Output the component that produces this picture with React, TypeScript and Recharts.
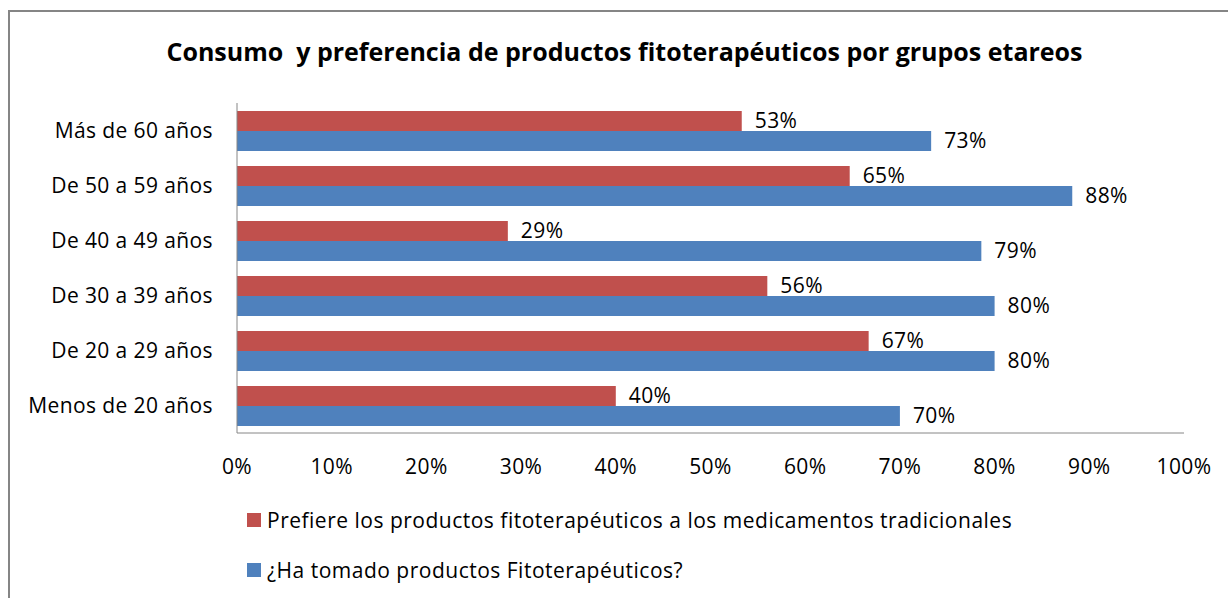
import { BarChart, Bar, XAxis, YAxis, LabelList } from 'recharts';

// categories listed top to bottom, as they appear in the chart
const AGE_GROUPS = [
  'Más de 60 años',
  'De 50 a 59 años',
  'De 40 a 49 años',
  'De 30 a 39 años',
  'De 20 a 29 años',
  'Menos de 20 años',
];
const PREFIERE = [53.3, 64.7, 28.6, 56, 66.7, 40];
const HA_TOMADO = [73.3, 88.2, 78.6, 80, 80, 70];
const X_TICKS = [0, 10, 20, 30, 40, 50, 60, 70, 80, 90, 100];

const SERIES = [
  { key: 'prefiere', name: 'Prefiere los productos fitoterapéuticos a los medicamentos tradicionales', color: '#C0504D' },
  { key: 'tomado', name: '¿Ha tomado productos Fitoterapéuticos?', color: '#4F81BD' },
];

const TITLE = 'Consumo  y preferencia de productos fitoterapéuticos por grupos etareos';

const data = AGE_GROUPS.map((name, i) => ({
  name,
  prefiere: PREFIERE[i],
  tomado: HA_TOMADO[i],
}));

const FONT = '"Open Sans", sans-serif';
const textStyle = { fontFamily: FONT, fontSize: 21, fill: '#000', letterSpacing: 0.4 };

const pct = (v: unknown) => `${Math.round(Number(v))}%`;

export default function App() {
  return (
    <div style={{ position: 'fixed', left: 0, top: 0, width: 1228, height: 598, overflow: 'hidden', background: '#fff' }}>
      <div
        style={{
          position: 'absolute',
          left: 8,
          top: 10,
          width: 1300,
          height: 700,
          borderTop: '2px solid #858585',
          borderLeft: '2px solid #858585',
        }}
      />
      <div
        style={{
          position: 'absolute',
          left: 0,
          top: 39,
          width: 1249,
          textAlign: 'center',
          fontFamily: FONT,
          fontWeight: 700,
          fontSize: 25,
          lineHeight: 1,
          color: '#000',
          whiteSpace: 'pre',
        }}
      >
        {TITLE}
      </div>
      <div style={{ position: 'absolute', left: 0, top: 0 }}>
        <BarChart
          width={1228}
          height={598}
          data={data}
          layout="vertical"
          barSize={20}
          barGap={0}
          margin={{ top: 103, right: 44, bottom: 135, left: 17 }}
        >
          <XAxis
            type="number"
            domain={[0, 100]}
            ticks={X_TICKS}
            tickFormatter={(v) => `${v}%`}
            tick={textStyle}
            tickLine={false}
            tickSize={0}
            tickMargin={26}
            axisLine={{ stroke: '#868686' }}
            height={30}
            interval={0}
          />
          <YAxis
            type="category"
            dataKey="name"
            tick={textStyle}
            tickLine={false}
            tickSize={0}
            tickMargin={24}
            axisLine={{ stroke: '#868686' }}
            width={220}
            interval={0}
          />
          {SERIES.map((s) => (
            <Bar key={s.key} dataKey={s.key} name={s.name} fill={s.color} isAnimationActive={false}>
              <LabelList dataKey={s.key} position="right" offset={13} formatter={pct} style={textStyle} />
            </Bar>
          ))}
        </BarChart>
      </div>
      {SERIES.map((s, i) => (
        <div key={s.key} style={{ position: 'absolute', left: 247, top: 510 + i * 50, height: 20 }}>
          <div style={{ position: 'absolute', left: 0, top: 3, width: 14, height: 14, background: s.color }} />
          <div
            style={{
              position: 'absolute',
              left: 20,
              top: 0,
              whiteSpace: 'nowrap',
              fontFamily: FONT,
              fontSize: 21,
              lineHeight: '20px',
              letterSpacing: 0.5,
              color: '#000',
            }}
          >
            {s.name}
          </div>
        </div>
      ))}
    </div>
  );
}
